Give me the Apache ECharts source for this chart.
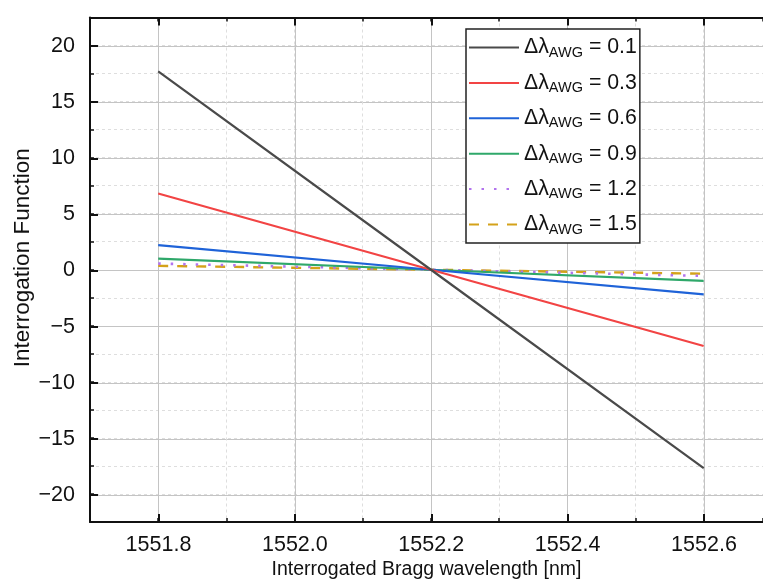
<!DOCTYPE html>
<html>
<head>
<meta charset="utf-8">
<script src="https://cdn.jsdelivr.net/npm/echarts@6/dist/echarts.min.js"></script>
<style>html,body{margin:0;padding:0;background:#fff}#c{width:763px;height:581px}</style>
</head>
<body>
<div id="c"></div>
<script>
// Data
const wavelengths = [1551.8, 1552.2, 1552.6];
const awgLabels = ['0.1', '0.3', '0.6', '0.9', '1.2', '1.5'];
const values_01 = [17.7, 0, -17.7];
const values_03 = [6.8, 0, -6.8];
const values_06 = [2.2, 0, -2.2];
const values_09 = [1.0, 0, -1.0];
const values_12 = [0.55, 0, -0.55];
const values_15 = [0.35, 0, -0.35];
const xTickLabels = [1551.8, 1552.0, 1552.2, 1552.4, 1552.6];
const yTickLabels = [-20, -15, -10, -5, 0, 5, 10, 15, 20];

const seriesValues = [values_01, values_03, values_06, values_09, values_12, values_15];
const colors = ['#4a4a4a', '#f24444', '#1f63d8', '#2fa86a', '#b274ee', '#d4a21a'];
const lineTypes = ['solid', 'solid', 'solid', 'solid', [2.5, 10], [10, 9]];
const lineWidths = [2.2, 2.2, 2.2, 2.2, 2.6, 2.4];

const FONT = 'Liberation Sans, Arial, sans-serif';
const fmtY = v => (v < 0 ? '\u2212' + Math.abs(v) : String(v));

const chart = echarts.init(document.getElementById('c'), null, {renderer: 'canvas'});

const X_MIN = 1551.7, X_MAX = 1552.687;

const grids = [
  {left: 90, right: 0, top: 17.5, bottom: 59, outerBoundsMode: 'none', containLabel: false},      // main plot
  {left: 158.5, right: 59, top: 17.5, bottom: 59, outerBoundsMode: 'none', containLabel: false},  // major x
  {left: 90, right: 0, top: 46, bottom: 86, outerBoundsMode: 'none', containLabel: false}         // major y
];

const minorLine = {show: true, lineStyle: {color: '#dedede', width: 1, type: [3, 3]}};
const majorLine = {show: true, lineStyle: {color: '#c4c4c4', width: 1, type: 'solid'}};

const option = {
  animation: false,
  backgroundColor: '#fff',
  grid: grids,
  legend: {
    orient: 'vertical',
    left: 466, top: 29,
    padding: [6, 3, 6, 2],
    itemWidth: 50, itemHeight: 14, itemGap: 10.4,
    borderColor: '#222', borderWidth: 1.5,
    backgroundColor: '#fff',
    itemStyle: {opacity: 0},
    data: awgLabels,
    formatter: name => '{a|\u0394\u03bb}{b|AWG}{a| = ' + name + '}',
    textStyle: {
      fontFamily: FONT, color: '#111',
      rich: {
        a: {fontFamily: FONT, fontSize: 21.3, lineHeight: 21, color: '#111'},
        b: {fontFamily: FONT, fontSize: 14.5, lineHeight: 14, padding: [10, 0, 0, 0], color: '#111'}
      }
    }
  },
  xAxis: [
    {gridIndex: 0, type: 'value', min: X_MIN, max: X_MAX, interval: 0.1, position: 'bottom',
     axisLine: {show: true, onZero: false, lineStyle: {color: '#111', width: 2}},
     axisTick: {show: true, inside: true, length: 4, lineStyle: {color: '#111', width: 1.5}},
     axisLabel: {show: false}, splitLine: minorLine,
     name: 'Interrogated Bragg wavelength [nm]', nameLocation: 'middle', nameGap: 38,
     nameTextStyle: {fontFamily: FONT, fontSize: 19.5, color: '#111'}},
    {gridIndex: 0, type: 'value', min: X_MIN, max: X_MAX, interval: 0.1, position: 'top',
     axisLine: {show: true, onZero: false, lineStyle: {color: '#111', width: 2}},
     axisTick: {show: true, inside: true, length: 4, lineStyle: {color: '#111', width: 1.5}},
     axisLabel: {show: false}, splitLine: {show: false}},
    {gridIndex: 1, type: 'value', min: xTickLabels[0], max: xTickLabels[xTickLabels.length - 1], interval: 0.2, position: 'bottom',
     axisLine: {show: false, onZero: false},
     axisTick: {show: true, inside: true, length: 8, lineStyle: {color: '#111', width: 2}},
     axisLabel: {show: true, margin: 12, fontFamily: FONT, fontSize: 21.5, color: '#111', formatter: v => v.toFixed(1)},
     splitLine: majorLine},
    {gridIndex: 1, type: 'value', min: xTickLabels[0], max: xTickLabels[xTickLabels.length - 1], interval: 0.2, position: 'top',
     axisLine: {show: false, onZero: false},
     axisTick: {show: true, inside: true, length: 8, lineStyle: {color: '#111', width: 2}},
     axisLabel: {show: false}, splitLine: {show: false}},
    {gridIndex: 2, type: 'value', min: X_MIN, max: X_MAX, show: false}
  ],
  yAxis: [
    {gridIndex: 0, type: 'value', min: -22.5, max: 22.5, interval: 2.5,
     axisLine: {show: true, onZero: false, lineStyle: {color: '#111', width: 2}},
     axisTick: {show: true, inside: true, length: 4, lineStyle: {color: '#111', width: 1.5}},
     axisLabel: {show: false}, splitLine: minorLine,
     name: 'Interrogation Function', nameLocation: 'middle', nameGap: 56, nameRotate: 90,
     nameTextStyle: {fontFamily: FONT, fontSize: 22.5, color: '#111', padding: [0, 0, 0, 24]}},
    {gridIndex: 1, type: 'value', min: -22.5, max: 22.5, show: false},
    {gridIndex: 2, type: 'value', min: yTickLabels[0], max: yTickLabels[yTickLabels.length - 1], interval: 5,
     axisLine: {show: false, onZero: false},
     axisTick: {show: true, inside: true, length: 8, lineStyle: {color: '#111', width: 2}},
     axisLabel: {show: true, margin: 15, fontFamily: FONT, fontSize: 21.5, color: '#111', formatter: fmtY},
     splitLine: majorLine}
  ],
  series: awgLabels.map((name, i) => ({
    name: name,
    type: 'line',
    xAxisIndex: 0, yAxisIndex: 0,
    showSymbol: false, symbol: 'none',
    z: 10 - i,
    color: colors[i],
    lineStyle: {color: colors[i], width: lineWidths[i], type: lineTypes[i]},
    data: wavelengths.map((w, j) => [w, seriesValues[i][j]])
  }))
};
chart.setOption(option);
</script>
</body>
</html>
